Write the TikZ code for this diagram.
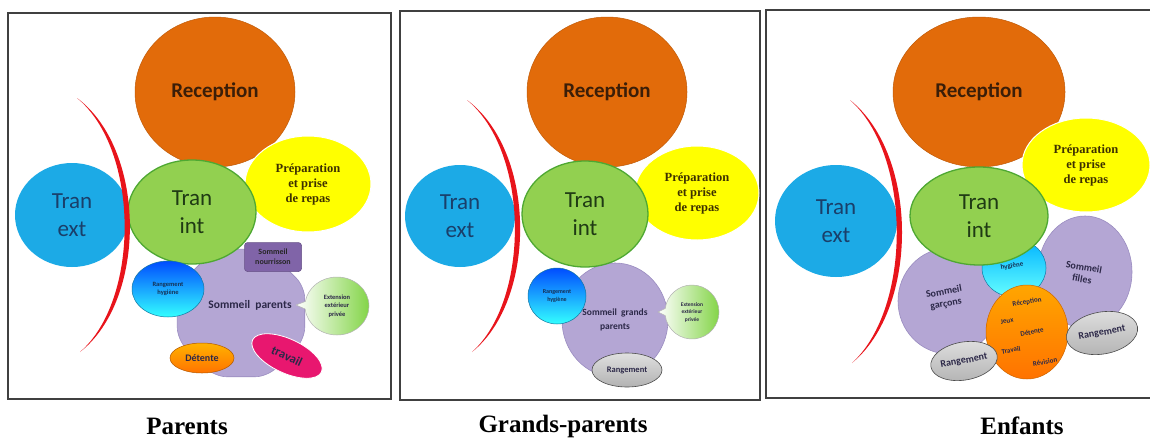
\documentclass[tikz,border=0pt]{standalone}
\usepackage{fontspec}
\setmainfont{Carlito}
\newfontfamily\tnr{Liberation Serif}
\usetikzlibrary{shapes.geometric,shapes.callouts}
\definecolor{cRec}{HTML}{E26B0A}
\definecolor{cRecT}{HTML}{3B1E08}
\definecolor{cBlue}{HTML}{1CAAE6}
\definecolor{cBlueT}{HTML}{1A3F6A}
\definecolor{cGreen}{HTML}{92D050}
\definecolor{cGreenD}{HTML}{4EA832}
\definecolor{cGreenT}{HTML}{1F3A14}
\definecolor{cYellow}{HTML}{FFFF00}
\definecolor{cPrepT}{HTML}{3D3000}
\definecolor{cLav}{HTML}{B4A6D4}
\definecolor{cLavD}{HTML}{9A8CC0}
\definecolor{cPurple}{HTML}{8064A8}
\definecolor{cDark}{HTML}{2C2848}
\definecolor{cRed}{HTML}{E8141B}
\definecolor{cMag}{HTML}{E8176F}
\definecolor{cFrame}{HTML}{404040}
\begin{document}
\begin{tikzpicture}[x=1pt,y=-1pt,
  every node/.style={inner sep=0pt, align=center},
  recep/.style={ellipse, fill=cRec, draw=cRec!85!black, line width=0.5pt, text=cRecT, font=\bfseries\fontsize{21}{24}\selectfont},
  tranext/.style={ellipse, fill=cBlue, text=cBlueT, font=\fontsize{23}{28}\selectfont},
  tranint/.style={ellipse, fill=cGreen, draw=cGreenD, line width=1.3pt, text=cGreenT, font=\fontsize{23}{28}\selectfont},
  prep/.style={ellipse, fill=cYellow, draw=white, line width=1pt, text=cPrepT, font=\tnr\bfseries\fontsize{12.5}{15}\selectfont},
  lav/.style={fill=cLav, draw=cLavD, line width=0.6pt, text=cDark},
  nour/.style={rectangle, rounded corners=3pt, fill=cPurple, draw=cPurple!80!black, line width=0.5pt, text=black!85, font=\bfseries\fontsize{8}{10}\selectfont},
  hyg/.style={ellipse, top color=blue!70!cyan, bottom color=cyan!80, draw=cBlue!70!black, line width=0.5pt, text=cBlueT!80!black, font=\bfseries\fontsize{6.5}{8.5}\selectfont},
  extc/.style={ellipse callout, left color=white, right color=cGreen!90!green, draw=gray!60, line width=0.5pt, text=cDark, font=\bfseries\fontsize{6.5}{8.5}\selectfont},
  detente/.style={ellipse, top color=orange!60!yellow, bottom color=orange!90!red, draw=orange!70!black, line width=0.5pt, text=cDark, font=\bfseries\fontsize{10}{12}\selectfont},
  travail/.style={ellipse, fill=cMag, draw=white, line width=0.8pt, text=cDark, font=\bfseries\fontsize{12.5}{15}\selectfont},
  rang/.style={ellipse, top color=gray!25, bottom color=gray!60, draw=gray!60!black, line width=0.6pt, text=cDark, font=\bfseries\fontsize{9}{11}\selectfont},
  acts/.style={ellipse, top color=orange!70!yellow, bottom color=orange!90!red, draw=orange!80!black, line width=0.5pt},
  small/.style={text=cDark, font=\bfseries\fontsize{7}{8}\selectfont},
  crescent/.style={fill=cRed},
  frame/.style={draw=cFrame, line width=1.3pt},
  caption/.style={font=\tnr\bfseries\fontsize{25}{28}\selectfont, text=black}
]
\useasboundingbox (0,0) rectangle (1150,442);
\fill[white] (0,0) rectangle (1150,442);

% frames
\draw[frame] (8,13) rectangle (391,399);
\draw[frame] (400,11) rectangle (760,400);
\draw[frame] (766,10) rectangle (1156,398);

% ================= Panel 1 =================
\node[recep, minimum width=160, minimum height=150] (p1rec) at (215,92) {Reception};
\node[prep, minimum width=126, minimum height=96] (p1prep) at (308,184) {Préparation\\et prise\\de repas};
\node[lav, regular polygon, regular polygon sides=8, minimum size=138, rounded corners=12pt] (p1som) at (241,313) {};
\node[text=cDark, font=\bfseries\fontsize{11.5}{13}\selectfont] (p1somt) at (250,305) {Sommeil\ \ parents};
\node[tranext, minimum width=114, minimum height=104] (p1ext) at (72,215) {Tran\\ext};
\node[tranint, minimum width=128, minimum height=104] (p1int) at (192,212) {Tran\\int};
\node[nour, minimum width=57, minimum height=29] (p1nour) at (273,257) {Sommeil\\nourrisson};
\node[hyg, minimum width=72, minimum height=56] (p1hyg) at (168,289) {Rangement\\hygiène};
\node[extc, minimum width=64, minimum height=58, callout absolute pointer={(296,305)}] (p1extc) at (337,306) {Extension\\extérieur\\privée};
\node[detente, minimum width=64, minimum height=30] (p1det) at (202,358) {Détente};
\node[travail, rotate=-25, minimum width=76, minimum height=34] (p1trav) at (287,356) {travail};
\coordinate (p1a) at (77,98);
\coordinate (p1b) at (80,352);
\fill[crescent] (p1a) .. controls (147,150) and (147,300) .. (p1b) .. controls (140,300) and (140,150) .. (p1a);
\node[caption] (cap1) at (187,426) {Parents};

% ================= Panel 2 =================
\node[recep, minimum width=160, minimum height=150] (p2rec) at (607,92) {Reception};
\node[prep, minimum width=124, minimum height=94] (p2prep) at (697,193) {Préparation\\et prise\\de repas};
\node[lav, ellipse, minimum width=106, minimum height=114, font=\bfseries\fontsize{9.5}{14}\selectfont] (p2som) at (615,320) {Sommeil\ \ grands\\parents};
\node[tranext, minimum width=110, minimum height=102] (p2ext) at (460,216) {Tran\\ext};
\node[tranint, minimum width=126, minimum height=106] (p2int) at (585,214) {Tran\\int};
\node[hyg, minimum width=58, minimum height=56, font=\bfseries\fontsize{6}{8}\selectfont] (p2hyg) at (557,296) {Rangement\\hygiène};
\node[extc, minimum width=54, minimum height=54, font=\bfseries\fontsize{5.5}{7.5}\selectfont, callout absolute pointer={(658,312)}] (p2extc) at (692,312) {Extension\\extérieur\\privée};
\node[rang, minimum width=70, minimum height=34, font=\bfseries\fontsize{8.5}{10}\selectfont] (p2rang) at (627,370) {Rangement};
\coordinate (p2a) at (467,100);
\coordinate (p2b) at (472,352);
\fill[crescent] (p2a) .. controls (537,152) and (537,300) .. (p2b) .. controls (530,300) and (530,152) .. (p2a);
\node[caption] (cap2) at (563,426) {Grands-parents};

% ================= Panel 3 =================
\node[recep, minimum width=172, minimum height=150] (p3rec) at (979,92) {Reception};
\node[prep, minimum width=128, minimum height=94] (p3prep) at (1086,165) {Préparation\\et prise\\de repas};
\node[tranext, minimum width=122, minimum height=112] (p3ext) at (836,221) {Tran\\ext};
\node[lav, ellipse, minimum width=102, minimum height=106] (p3gar) at (949,301) {};
\node[text=cDark, font=\bfseries\fontsize{10}{12}\selectfont, rotate=10] (p3gart) at (945,298) {Sommeil\\garçons};
\node[lav, ellipse, minimum width=94, minimum height=112] (p3fil) at (1085,272) {};
\node[text=cDark, font=\bfseries\fontsize{10}{12}\selectfont, rotate=-10] (p3filt) at (1083,273) {Sommeil\\filles};
\node[hyg, top color=cyan!70!blue, bottom color=cyan!60, minimum width=64, minimum height=58] (p3hyg) at (1014,268) {};
\node[small, text=cBlueT!80!black, rotate=10] (p3hygt) at (1012,266) {hygiène};
\node[acts, minimum width=82, minimum height=94] (p3acts) at (1027,332) {};
\node[small, rotate=10] (t1) at (1027,302) {Réception};
\node[small, rotate=10] (t2) at (1007,321) {Jeux};
\node[small, rotate=10] (t3) at (1032,332) {Détente};
\node[small, rotate=10] (t4) at (1011,350) {Travail};
\node[small, rotate=10] (t5) at (1045,362) {Révision};
\node[rang, rotate=10, minimum width=64, minimum height=38, font=\bfseries\fontsize{10}{12}\selectfont] (p3rang1) at (964,361) {Rangement};
\node[rang, rotate=10, minimum width=72, minimum height=42, font=\bfseries\fontsize{10}{12}\selectfont] (p3rang2) at (1102,333) {Rangement};
\node[tranint, minimum width=138, minimum height=98] (p3int) at (979,216) {Tran\\int};
\coordinate (p3a) at (850,100);
\coordinate (p3b) at (852,363);
\fill[crescent] (p3a) .. controls (919,155) and (919,308) .. (p3b) .. controls (912,308) and (912,155) .. (p3a);
\node[caption] (cap3) at (1022,426) {Enfants};
\end{tikzpicture}
\end{document}
